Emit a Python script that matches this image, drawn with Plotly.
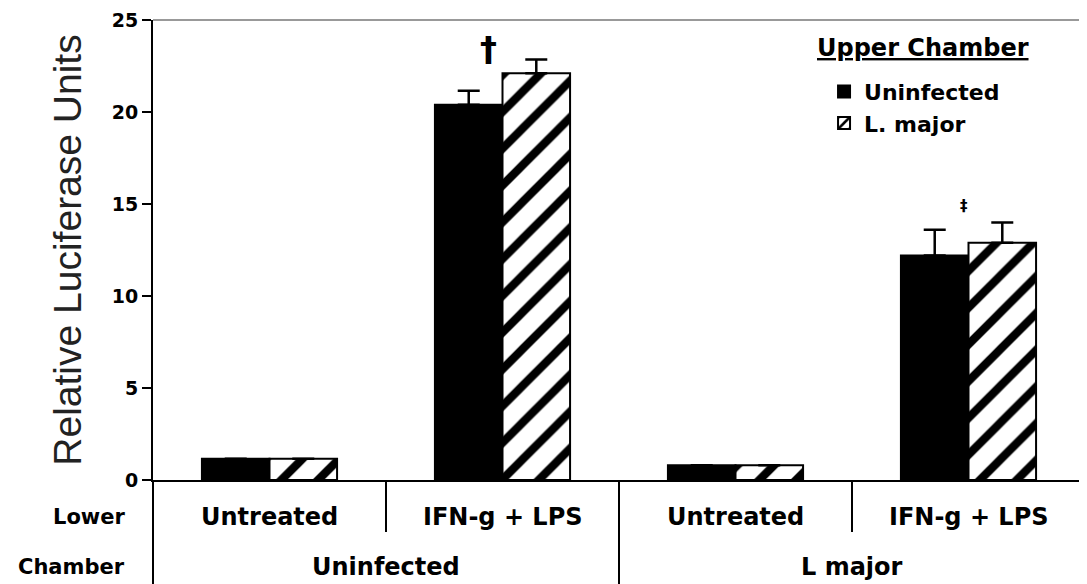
import plotly.graph_objects as go

categories = ["Untreated", "IFN-g + LPS", "Untreated ", "IFN-g + LPS "]
lower_labels = ["Untreated", "IFN-g + LPS", "Untreated", "IFN-g + LPS"]
upper_groups = ["Uninfected", "L major"]
series_names = ["Uninfected", "L. major"]
uninfected_vals = [1.15, 20.4, 0.8, 12.2]
uninfected_err = [0, 0.75, 0, 1.4]
lmajor_vals = [1.15, 22.1, 0.8, 12.9]
lmajor_err = [0, 0.75, 0, 1.1]
sig_marks = ["", "†", "", "‡"]
sig_y = [0, 23.4, 0, 14.9]

FONT = "DejaVu Sans"

fig = go.Figure()
fig.add_trace(go.Bar(
    name=series_names[0], x=categories, y=uninfected_vals,
    marker=dict(color="black", line=dict(color="black", width=2)),
    error_y=dict(type="data", array=uninfected_err, arrayminus=[0]*4, symmetric=False,
                 color="black", thickness=2.5, width=11),
))
fig.add_trace(go.Bar(
    name=series_names[1], x=categories, y=lmajor_vals,
    marker=dict(color="white", line=dict(color="black", width=2),
                pattern=dict(shape="/", fgcolor="black", bgcolor="white", fgopacity=1,
                             fillmode="replace", size=26, solidity=0.32)),
    error_y=dict(type="data", array=lmajor_err, arrayminus=[0]*4, symmetric=False,
                 color="black", thickness=2.5, width=11),
))

annotations = []
for i, (m, yv) in enumerate(zip(sig_marks, sig_y)):
    if m:
        annotations.append(dict(x=categories[i], y=yv, xref="x", yref="y", text=m, showarrow=False,
                                xshift=-14 if m == "†" else -5,
                                font=dict(family=FONT, size=34 if m == "†" else 15, color="black", weight="bold")))
for i, lab in enumerate(lower_labels):
    annotations.append(dict(x=i, y=-0.080, xref="x", yref="paper", text=lab, showarrow=False,
                            yanchor="middle",
                            font=dict(family=FONT, size=24, color="black", weight="bold")))
for j, lab in enumerate(upper_groups):
    annotations.append(dict(x=2 * j + 0.5, y=-0.189, xref="x", yref="paper", text=lab, showarrow=False,
                            yanchor="middle",
                            font=dict(family=FONT, size=24, color="black", weight="bold")))
for txt, yy in [("Lower", -0.080), ("Chamber", -0.189)]:
    annotations.append(dict(x=-0.028, y=yy, xref="paper", yref="paper", text=txt, showarrow=False,
                            xanchor="right", yanchor="middle",
                            font=dict(family=FONT, size=21, color="black", weight="bold")))
annotations.append(dict(x=0.71, y=0.939, xref="paper", yref="paper", text="<u>Upper Chamber</u>",
                        showarrow=False, xanchor="left", yanchor="middle",
                        font=dict(family=FONT, size=24, color="black", weight="bold")))

shapes = [
    dict(type="line", xref="x", yref="paper", x0=0.5, x1=0.5, y0=0, y1=-0.113, line=dict(color="black", width=2)),
    dict(type="line", xref="x", yref="paper", x0=1.5, x1=1.5, y0=0, y1=-0.25, line=dict(color="black", width=2)),
    dict(type="line", xref="x", yref="paper", x0=2.5, x1=2.5, y0=0, y1=-0.113, line=dict(color="black", width=2)),
    dict(type="line", xref="paper", yref="paper", x0=0, x1=0, y0=0, y1=-0.25, line=dict(color="black", width=2)),
    dict(type="line", xref="paper", yref="paper", x0=0, x1=1, y0=1, y1=1, line=dict(color="#999", width=2)),
    dict(type="line", xref="paper", yref="paper", x0=1, x1=1, y0=0, y1=1, line=dict(color="#999", width=2)),
]

fig.update_layout(
    width=1079, height=576,
    margin=dict(l=145, r=2, t=12, b=104),
    paper_bgcolor="white", plot_bgcolor="white",
    barmode="group", bargap=0.42, bargroupgap=0,
    showlegend=True,
    legend=dict(x=0.72, y=0.89, xanchor="left", yanchor="top",
                font=dict(family=FONT, size=22, color="black", weight="bold"),
                bgcolor="rgba(0,0,0,0)", tracegroupgap=0, itemwidth=30),
    xaxis=dict(showticklabels=False, showline=True, linecolor="black", linewidth=2, ticks="",
               showgrid=False, zeroline=False),
    yaxis=dict(range=[0, 25], tickvals=[0, 5, 10, 15, 20, 25], showline=True, linecolor="black", linewidth=2,
               ticks="outside", ticklen=9, tickwidth=2, tickcolor="black", showgrid=False, zeroline=False,
               tickfont=dict(family=FONT, size=19, color="black", weight="bold"),
               title=dict(text="Relative Luciferase Units", standoff=18,
                          font=dict(family="Liberation Sans", size=39, color="#222"))),
    annotations=annotations, shapes=shapes,
)

fig.write_html("out.html")
